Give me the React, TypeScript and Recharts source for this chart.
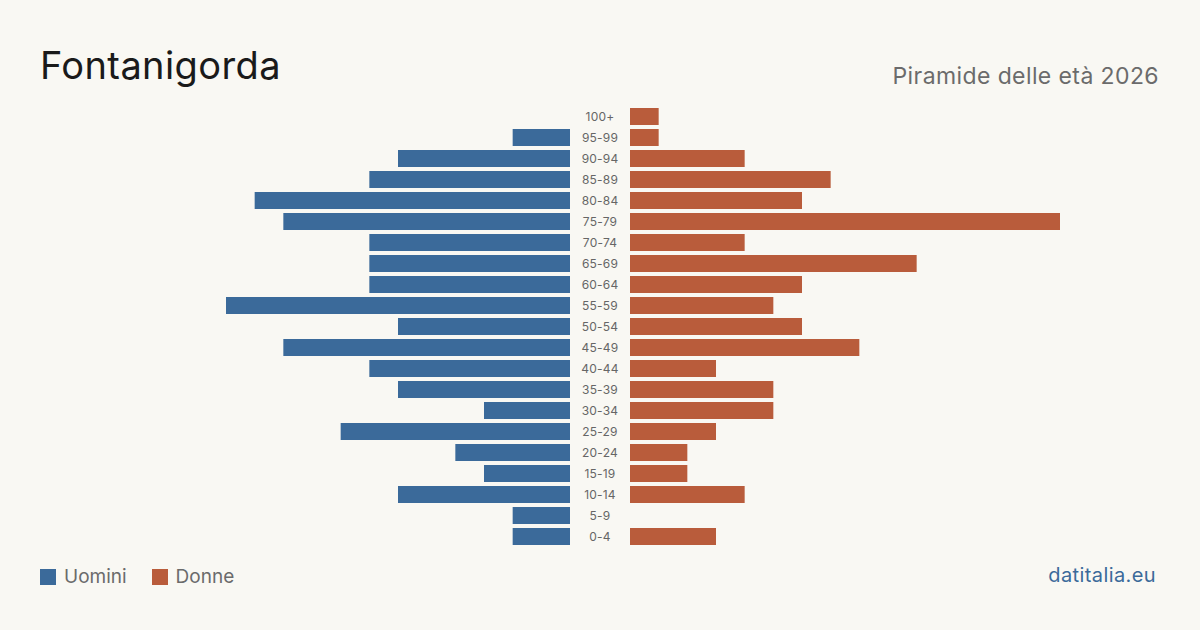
import { BarChart, Bar, XAxis, YAxis } from "recharts";

const ageGroups = [
  "100+", "95-99", "90-94", "85-89", "80-84", "75-79", "70-74", "65-69", "60-64", "55-59",
  "50-54", "45-49", "40-44", "35-39", "30-34", "25-29", "20-24", "15-19", "10-14", "5-9", "0-4",
];
const uomini = [0, 2, 6, 7, 11, 10, 7, 7, 7, 12, 6, 10, 7, 6, 3, 8, 4, 3, 6, 2, 2];
const donne = [1, 1, 4, 7, 6, 15, 4, 10, 6, 5, 6, 8, 3, 5, 5, 3, 2, 2, 4, 0, 3];

const BLUE = "#3b6a9a";
const ORANGE = "#b95c3b";
const FONT = "Inter, 'Noto Sans', sans-serif";

const rows = ageGroups.map((age, i) => ({ age, uomini: uomini[i], donne: donne[i] }));

const AgeTick = (props: any) => {
  const { y, payload } = props;
  return (
    <text x={30} y={y} textAnchor="middle" dominantBaseline="central" fontSize={12} fill="#666" fontFamily={FONT} letterSpacing={0.2}>
      {payload.value}
    </text>
  );
};

export default function App() {
  return (
    <div
      style={{
        position: "absolute",
        left: 0,
        top: 0,
        width: 1200,
        height: 630,
        background: "#f9f8f3",
        fontFamily: FONT,
        overflow: "hidden",
      }}
    >
      <div style={{ position: "absolute", left: 40, top: 42, fontSize: 38, letterSpacing: 0.4, color: "#1a1a1a", lineHeight: "46px" }}>
        Fontanigorda
      </div>
      <div style={{ position: "absolute", right: 41, top: 62, fontSize: 23, letterSpacing: 0.4, color: "#6b6b6b", lineHeight: "28px" }}>
        Piramide delle età 2026
      </div>

      <div style={{ position: "absolute", left: 140, top: 106 }}>
        <BarChart width={430} height={441} data={rows} layout="vertical" margin={{ top: 0, right: 0, bottom: 0, left: 0 }}>
          <XAxis type="number" domain={[0, 15]} reversed hide />
          <YAxis type="category" dataKey="age" hide />
          <Bar dataKey="uomini" fill={BLUE} barSize={17} isAnimationActive={false} />
        </BarChart>
      </div>

      <div style={{ position: "absolute", left: 570, top: 106 }}>
        <BarChart width={490} height={441} data={rows} layout="vertical" margin={{ top: 0, right: 0, bottom: 0, left: 0 }}>
          <XAxis type="number" domain={[0, 15]} hide />
          <YAxis type="category" dataKey="age" width={60} axisLine={false} tickLine={false} tick={<AgeTick />} interval={0} />
          <Bar dataKey="donne" fill={ORANGE} barSize={17} isAnimationActive={false} />
        </BarChart>
      </div>

      <div style={{ position: "absolute", left: 40, top: 565, display: "flex", alignItems: "center", fontSize: 19, color: "#6b6b6b" }}>
        <span style={{ width: 16, height: 16, background: BLUE, display: "inline-block", marginRight: 8 }} />
        <span style={{ marginRight: 25 }}>Uomini</span>
        <span style={{ width: 16, height: 16, background: ORANGE, display: "inline-block", marginRight: 8 }} />
        <span>Donne</span>
      </div>
      <div style={{ position: "absolute", right: 44, top: 563, fontSize: 20, letterSpacing: 0.4, color: BLUE }}>datitalia.eu</div>
    </div>
  );
}
